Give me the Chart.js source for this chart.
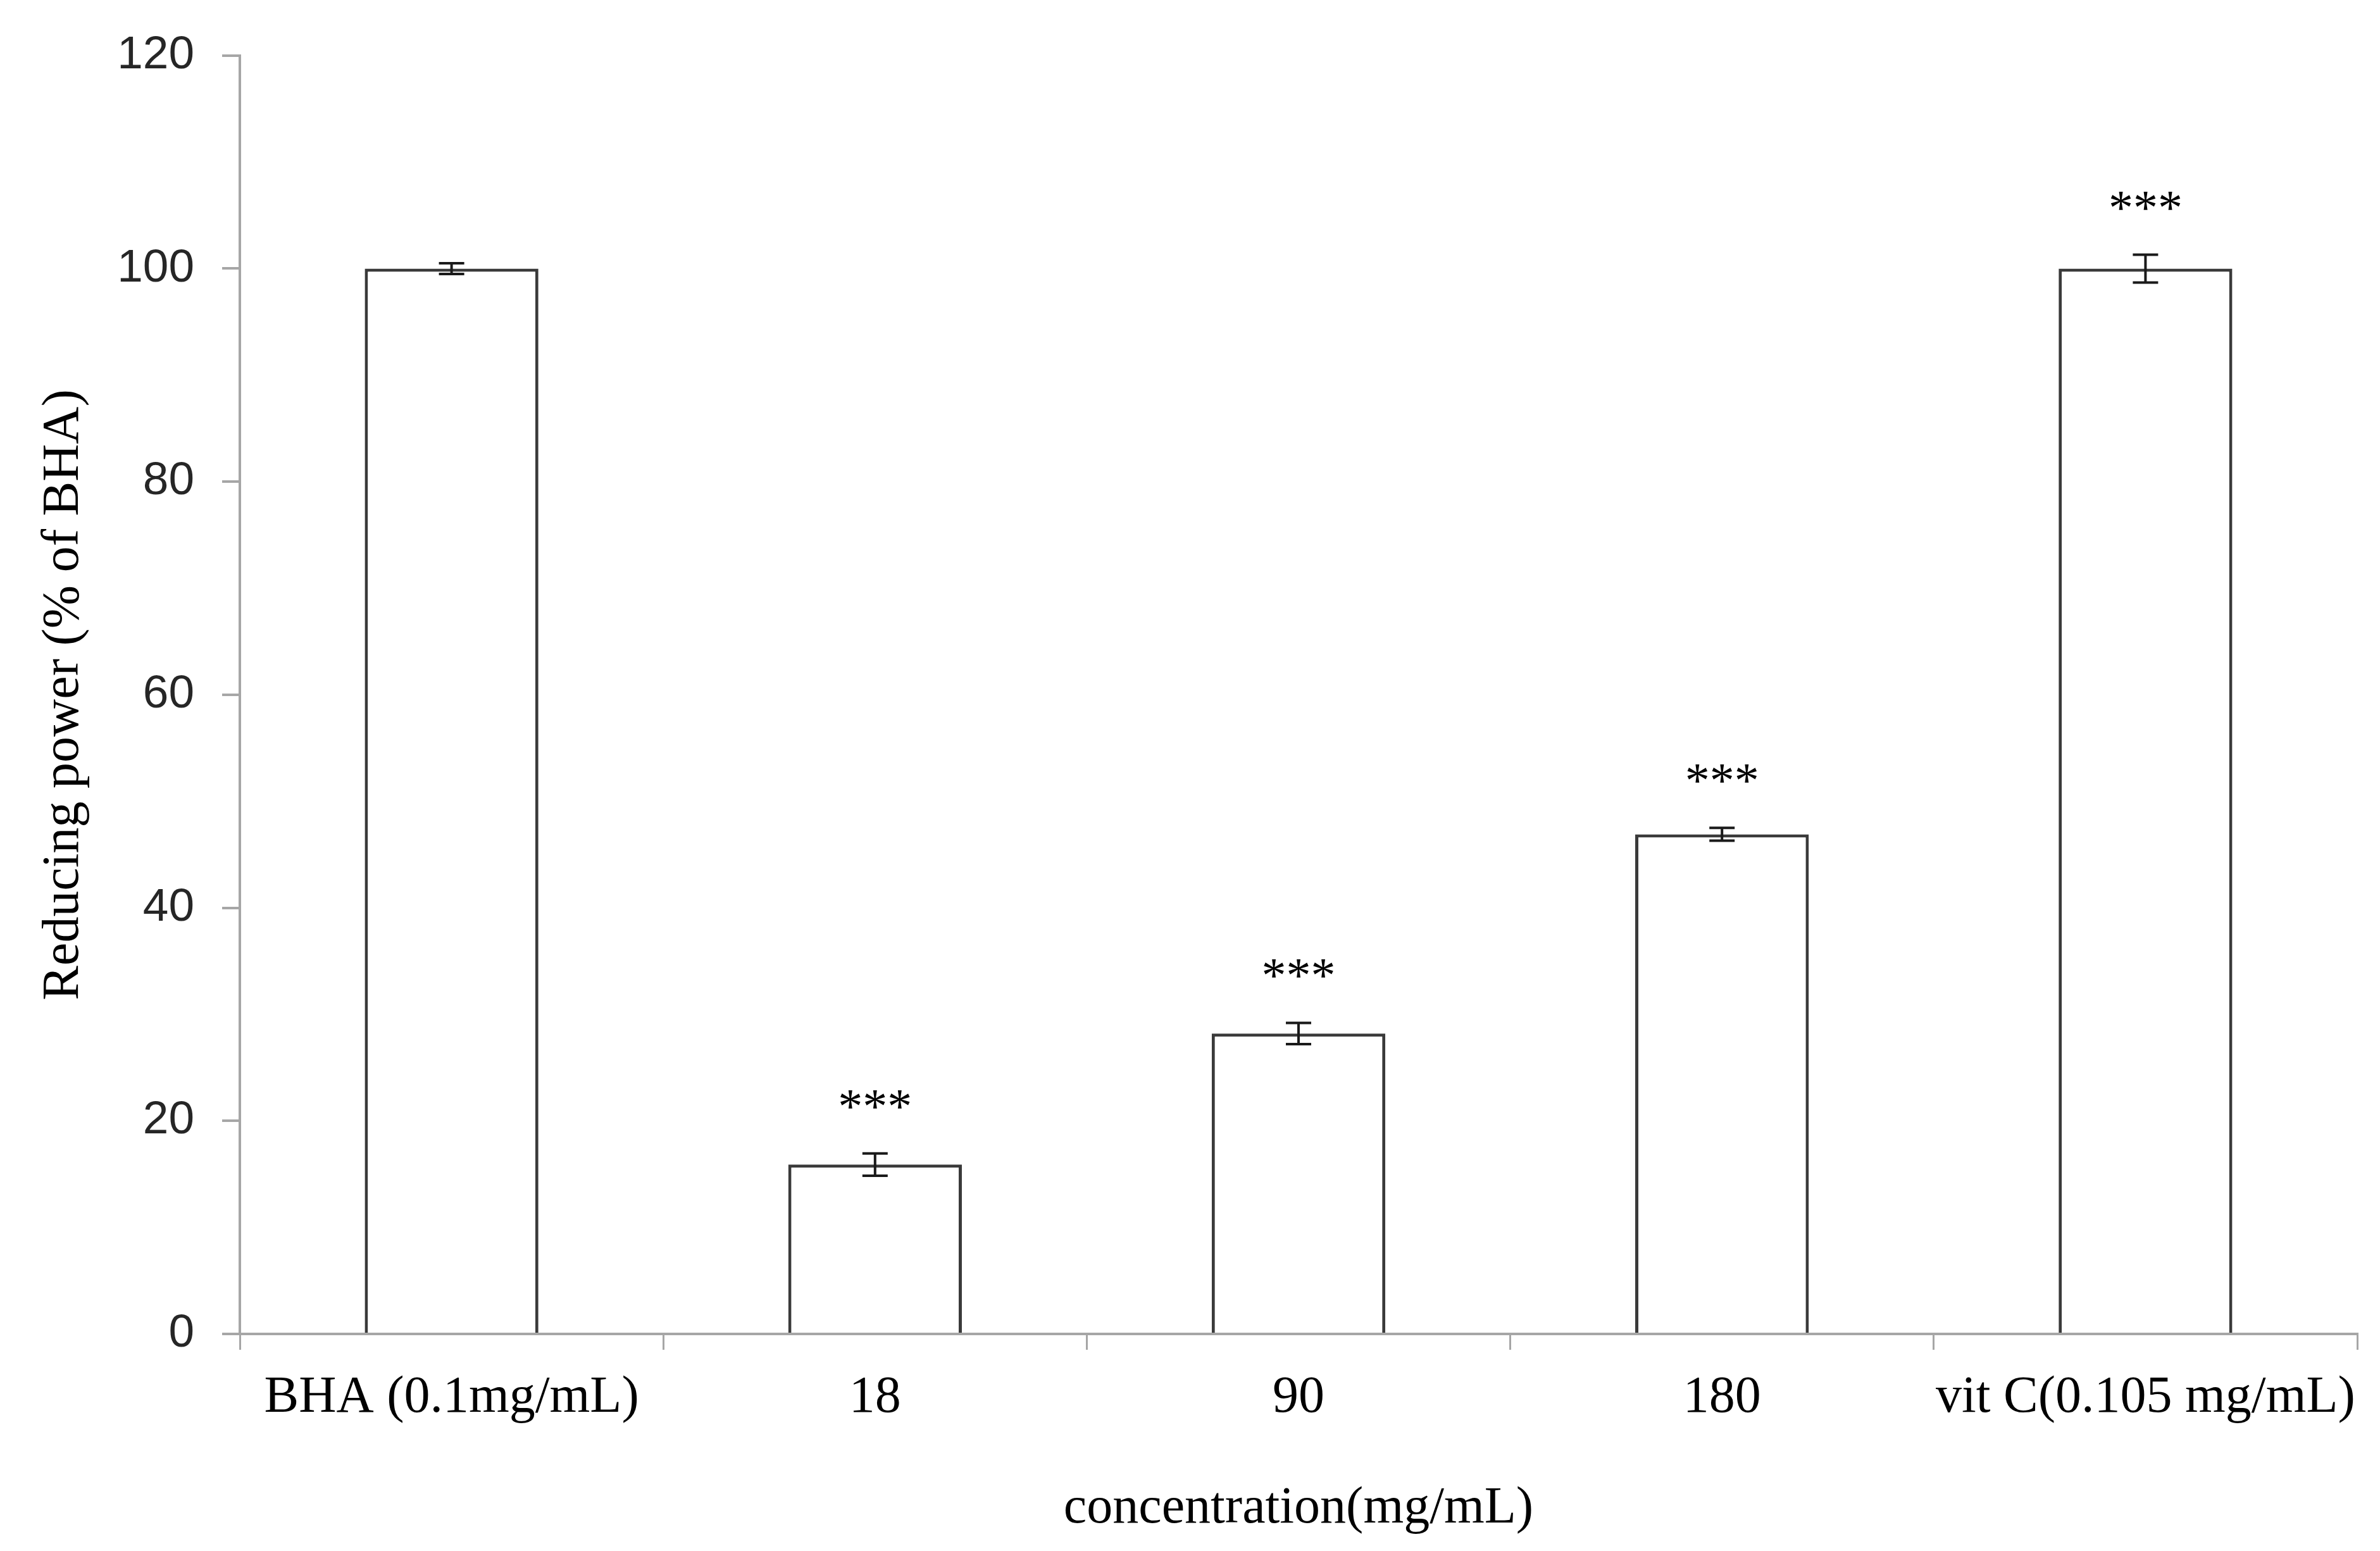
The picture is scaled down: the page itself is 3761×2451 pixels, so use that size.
<!DOCTYPE html>
<html>
<head>
<meta charset="utf-8">
<script src="https://cdn.jsdelivr.net/npm/chart.js@4"></script>
<style>
  body { margin: 0; background: #fff; }
  canvas { display: block; }
</style>
</head>
<body>
<canvas id="powerChart" width="3761" height="2451"></canvas>
<script>
  const labels = ['BHA (0.1mg/mL)', '18', '90', '180', 'vit C(0.105 mg/mL)'];
  const means = [100, 15.9, 28.2, 46.9, 100];
  const errors = [0.5, 1.05, 1.0, 0.6, 1.3];
  const stars = ['', '***', '***', '***', '***'];
  const yTicks = [0, 20, 40, 60, 80, 100, 120];

  const axisGrey = '#a6a6a6';
  const serif = '"Liberation Serif", "Times New Roman", serif';

  // error bars and significance stars on top of the bars
  const errorBars = {
    id: 'errorBars',
    afterDatasetsDraw(chart) {
      const ctx = chart.ctx;
      const y = chart.scales.y;
      const meta = chart.getDatasetMeta(0);
      ctx.save();
      meta.data.forEach(function(bar, i) {
        const top = y.getPixelForValue(means[i] + errors[i]);
        const bottom = y.getPixelForValue(means[i] - errors[i]);
        ctx.strokeStyle = '#1a1a1a';
        ctx.lineWidth = 4;
        ctx.beginPath();
        ctx.moveTo(bar.x, top);
        ctx.lineTo(bar.x, bottom);
        ctx.moveTo(bar.x - 20, top);
        ctx.lineTo(bar.x + 20, top);
        ctx.moveTo(bar.x - 20, bottom);
        ctx.lineTo(bar.x + 20, bottom);
        ctx.stroke();
        if (stars[i]) {
          ctx.fillStyle = '#000';
          ctx.font = '78px ' + serif;
          ctx.textAlign = 'center';
          ctx.textBaseline = 'alphabetic';
          ctx.fillText(stars[i], bar.x, top - 85 + 36);
        }
      });
      ctx.restore();
    }
  };

  const data = {
    labels: labels,
    datasets: [{
      data: means,
      backgroundColor: '#ffffff',
      borderColor: '#3a3a3a',
      borderWidth: 5,
      barPercentage: 0.41,
      categoryPercentage: 1
    }]
  };

  const config = {
    type: 'bar',
    data: data,
    options: {
      responsive: false,
      animation: false,
      devicePixelRatio: 1,
      layout: { padding: { top: 83, right: 36, bottom: 0, left: 0 } },
      plugins: {
        legend: { display: false },
        tooltip: { enabled: false }
      },
      scales: {
        x: {
          afterFit: function(scale) { scale.height = 343; },
          grid: {
            offset: true,
            drawOnChartArea: false,
            drawTicks: true,
            tickLength: 25,
            tickColor: axisGrey,
            lineWidth: 3
          },
          border: { display: true, color: axisGrey, width: 4 },
          ticks: {
            color: '#000',
            padding: 27,
            maxRotation: 0,
            autoSkip: false,
            font: { family: serif, size: 82 }
          },
          title: {
            display: true,
            text: 'concentration(mg/mL)',
            color: '#000',
            padding: { top: 0, bottom: 17 },
            font: { family: serif, size: 82 }
          }
        },
        y: {
          min: 0,
          max: 120,
          afterFit: function(scale) { scale.width = 379; },
          afterBuildTicks: function(scale) {
            scale.ticks = yTicks.map(function(v) { return { value: v }; });
          },
          grid: {
            drawOnChartArea: false,
            drawTicks: true,
            tickLength: 28,
            tickColor: axisGrey,
            lineWidth: 4
          },
          border: { display: true, color: axisGrey, width: 4 },
          ticks: {
            color: '#262626',
            padding: 44,
            font: { family: '"Liberation Sans", Arial, sans-serif', size: 73 }
          },
          title: {
            display: true,
            text: 'Reducing power (% of BHA)',
            color: '#000',
            padding: { top: 52, bottom: 0 },
            font: { family: serif, size: 82 }
          }
        }
      }
    },
    plugins: [errorBars]
  };

  const powerChart = new Chart(
    document.getElementById('powerChart').getContext('2d'),
    config
  );
</script>
</body>
</html>
